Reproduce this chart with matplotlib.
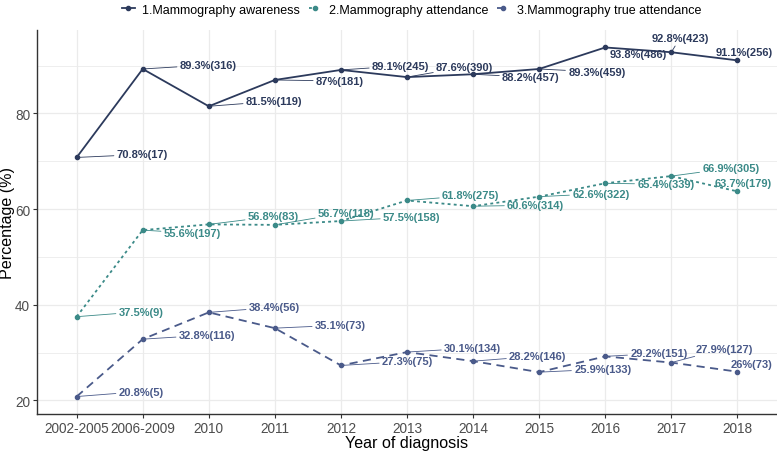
import numpy as np
import matplotlib
matplotlib.use("Agg")
import matplotlib.pyplot as plt
from matplotlib.ticker import MultipleLocator

plt.rcParams["font.family"] = ["Liberation Sans", "DejaVu Sans"]

# ---------------- data ------------------------------------------------------
years = ["2002-2005", "2006-2009", "2010", "2011", "2012", "2013",
         "2014", "2015", "2016", "2017", "2018"]

awareness_pct = [70.8, 89.3, 81.5, 87.0, 89.1, 87.6, 88.2, 89.3, 93.8, 92.8, 91.1]
awareness_n = [17, 316, 119, 181, 245, 390, 457, 459, 486, 423, 256]

attendance_pct = [37.5, 55.6, 56.8, 56.7, 57.5, 61.8, 60.6, 62.6, 65.4, 66.9, 63.7]
attendance_n = [9, 197, 83, 118, 158, 275, 314, 322, 339, 305, 179]

true_pct = [20.8, 32.8, 38.4, 35.1, 27.3, 30.1, 28.2, 25.9, 29.2, 27.9, 26.0]
true_n = [5, 116, 56, 73, 75, 134, 146, 133, 151, 127, 73]

series_names = ["1.Mammography awareness", "2.Mammography attendance",
                "3.Mammography true attendance"]

# ---------------- label placement (pixel offsets: dx right, dy down) --------
aw_off = [(40, -3), (37, -4), (37, -5), (41, 1), (31, -4), (29, -10),
          (29, 3), (29, 3), (4, 7), (-20, -14), (-22, -8)]
at_off = [(42, -5), (21, 3), (39, -8), (43, -12), (42, -4), (35, -5),
          (34, -1), (33, -3), (32, 1), (31, -8), (-23, -8)]
tr_off = [(42, -5), (36, -4), (40, -5), (40, -3), (41, -4), (37, -4),
          (36, -5), (35, -3), (25, -3), (24, -14), (-7, -8)]

colors = ["#2c3a5c", "#3b8a88", "#4a5a8a"]
dashes = [None, (1.6, 1.8), (4.5, 3.0)]


def fmt(v):
    s = f"{v:.1f}"
    if s.endswith(".0"):
        s = s[:-2]
    return s


fig = plt.figure(figsize=(7.77, 4.52), dpi=100)
ax = fig.add_axes([37 / 777, 1 - 415 / 452, 740 / 777, (415 - 31) / 452])

x = np.arange(len(years))
all_pct = [awareness_pct, attendance_pct, true_pct]
all_n = [awareness_n, attendance_n, true_n]
all_off = [aw_off, at_off, tr_off]

handles = []
for pct, n, off, col, ds, name in zip(all_pct, all_n, all_off, colors, dashes, series_names):
    line, = ax.plot(x, pct, color=col, lw=1.3, marker="o", ms=3, label=name, zorder=3)
    if ds is not None:
        line.set_dashes(ds)
    handles.append(line)
    for xi, v, cnt, (dx, dy) in zip(x, pct, n, off):
        ax.annotate(f"{fmt(v)}%({cnt})", xy=(xi, v), xytext=(dx, -dy),
                    textcoords="offset pixels", ha="left", va="center",
                    fontsize=8.0, fontweight="bold", color=col, zorder=4,
                    arrowprops=dict(arrowstyle="-", color=col, lw=0.6,
                                    shrinkA=0, shrinkB=0))

ax.set_xlim(-0.6, len(years) - 0.4)
ax.set_ylim(17.15, 97.45)
ax.set_xticks(x)
ax.set_xticklabels(years)
ax.yaxis.set_minor_locator(MultipleLocator(10))
ax.set_yticks([20, 40, 60, 80])

ax.grid(True, which="major", color="#ebebeb", lw=0.9, zorder=0)
ax.grid(True, which="minor", axis="y", color="#ebebeb", lw=0.6, zorder=0)
ax.set_axisbelow(True)

for s in ["top", "right"]:
    ax.spines[s].set_visible(False)
for s in ["left", "bottom"]:
    ax.spines[s].set_color("#333333")
    ax.spines[s].set_linewidth(1.0)

ax.tick_params(axis="both", which="major", colors="#333333", labelcolor="#4d4d4d",
               labelsize=9.8, length=3, pad=2)
ax.tick_params(axis="y", which="minor", length=0)

ax.set_xlabel("Year of diagnosis", fontsize=11.6)
ax.set_ylabel("Percentage (%)", fontsize=11.6)
ax.xaxis.set_label_coords(0.5, -0.073)
ax.yaxis.set_label_coords(-0.040, 0.5)
ax.xaxis.label.set_va("center")
ax.yaxis.label.set_va("center")

fig.legend(handles=handles, loc="center", bbox_to_anchor=(0.530, 0.976), ncol=3,
           frameon=False, fontsize=9, handlelength=1.0, handletextpad=0.6,
           columnspacing=0.7)

fig.savefig("out.png", dpi=100)
